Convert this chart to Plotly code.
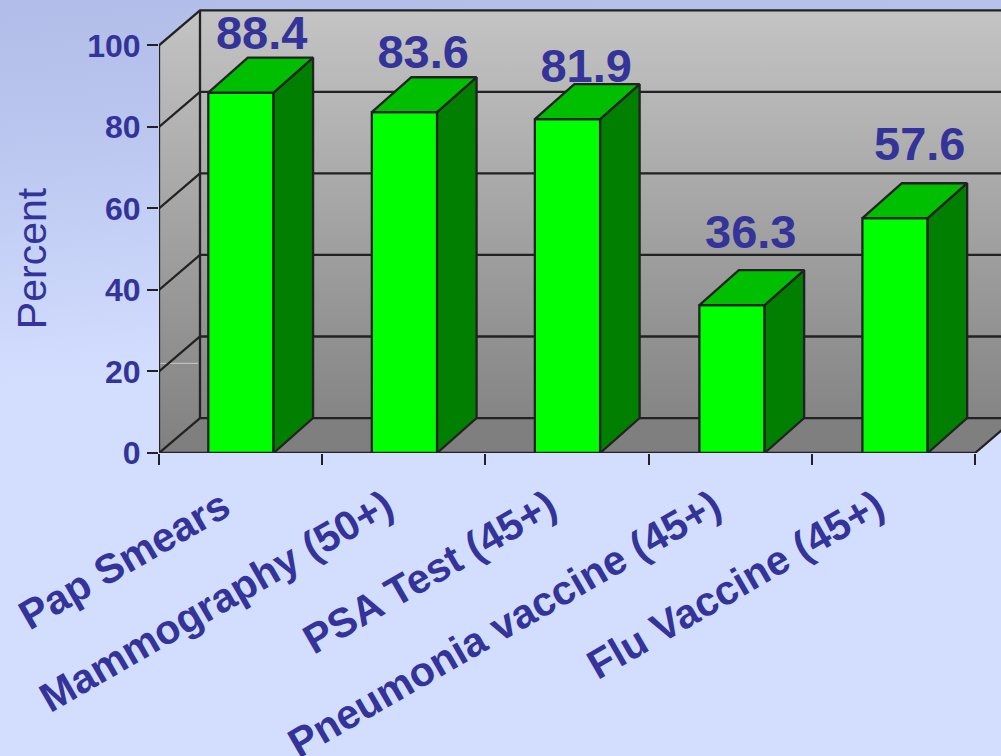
import base64
import plotly.graph_objects as go

categories = ["Pap Smears", "Mammography (50+)", "PSA Test (45+)", "Pneumonia vaccine (45+)", "Flu Vaccine (45+)"]
values = [88.4, 83.6, 81.9, 36.3, 57.6]
y_ticks = [0, 20, 40, 60, 80, 100]
y_title = "Percent"

# layout and styling constants
W, H = 1001, 756
L, B, T = 159, 302.6, 0
PX_X = 163.2
PX_Y = 4.08
x_max = (W - L) / PX_X
y_max = (H - B - T) / PX_Y
n = len(categories)
wall_dx = 41 / PX_X
wall_dy = 35 / PX_Y
bar_dx = 39.5 / PX_X
bar_dy = 35 / PX_Y
bar_w = 0.40
centers = [0.502, 1.504, 2.503, 3.511, 4.510]
label_pos = [c - 0.112 for c in centers]
# hand placement of the value labels, in pixels (right, down)
label_nudge = [(1, 3), (-1, 3), (-1, 10), (-1, -10), (5, -11)]
INK = "#222222"
BLUE = "#333399"
FONT = "Liberation Sans, Arial, sans-serif"
LW = 2.3

bg = ('<svg xmlns="http://www.w3.org/2000/svg" width="1001" height="756" preserveAspectRatio="none">'
      '<defs><linearGradient id="g" x1="0" y1="0" x2="0.06" y2="0.6">'
      '<stop offset="0" stop-color="#b1bce8"/><stop offset="0.35" stop-color="#bcc8f0"/>'
      '<stop offset="0.85" stop-color="#d3deff"/><stop offset="1" stop-color="#d3deff"/>'
      '</linearGradient></defs>'
      '<rect width="1001" height="756" fill="url(#g)"/></svg>')
bg_uri = "data:image/svg+xml;base64," + base64.b64encode(bg.encode()).decode()

fig = go.Figure()

# walls and floor, on the base axes so they sit under the bars
fig.add_trace(go.Scatter(
    x=[wall_dx, n + wall_dx, n + wall_dx, wall_dx, wall_dx],
    y=[wall_dy, wall_dy, 100 + wall_dy, 100 + wall_dy, wall_dy],
    mode="lines", fill="toself", line=dict(width=0),
    fillgradient=dict(type="vertical", colorscale=[[0, "#858585"], [1, "#c4c4c4"]]),
    hoverinfo="skip", cliponaxis=False))
fig.add_trace(go.Scatter(
    x=[0, wall_dx, wall_dx, 0, 0],
    y=[0, wall_dy, 100 + wall_dy, 100, 0],
    mode="lines", fill="toself", line=dict(width=0),
    fillgradient=dict(type="vertical", colorscale=[[0, "#808080"], [1, "#c4c4c4"]]),
    hoverinfo="skip", cliponaxis=False))
fig.add_trace(go.Scatter(
    x=[0, n, n + wall_dx, wall_dx, 0],
    y=[0, 0, wall_dy, wall_dy, 0],
    mode="lines", fill="toself", line=dict(width=0), fillcolor="#7f7f7f",
    hoverinfo="skip", cliponaxis=False))
# faint light streak on the left wall
fig.add_trace(go.Scatter(x=[0.006, 0.24], y=[22, 22], mode="lines", line=dict(color="#c8c8c8", width=1),
                         hoverinfo="skip", cliponaxis=False))

gx, gy = [], []
for v in y_ticks:
    gx += [0, wall_dx, n + wall_dx, None]
    gy += [v, v + wall_dy, v + wall_dy, None]
gx += [wall_dx, wall_dx, None, 0, 0, None, 0, n, n + wall_dx]
gy += [wall_dy, 100 + wall_dy, None, 0, 100, None, 0, 0, wall_dy]
fig.add_trace(go.Scatter(x=gx, y=gy, mode="lines", line=dict(color=INK, width=LW),
                         hoverinfo="skip", cliponaxis=False))

# bars on an overlaid pair of axes
fig.add_trace(go.Bar(x=centers, y=values, width=bar_w, marker=dict(color="#00ff00", line=dict(color=INK, width=LW)),
                     xaxis="x2", yaxis="y2", cliponaxis=False, hoverinfo="skip"))
for c, v in zip(centers, values):
    r = c + bar_w / 2
    l = c - bar_w / 2
    fig.add_trace(go.Scatter(x=[r, r + bar_dx, r + bar_dx, r, r], y=[0, bar_dy, v + bar_dy, v, 0],
                             mode="lines", fill="toself", fillcolor="#007f00", line=dict(color=INK, width=LW),
                             xaxis="x2", yaxis="y2", cliponaxis=False, hoverinfo="skip"))
    fig.add_trace(go.Scatter(x=[l, r, r + bar_dx, l + bar_dx, l], y=[v, v, v + bar_dy, v + bar_dy, v],
                             mode="lines", fill="toself", fillcolor="#00bf00", line=dict(color=INK, width=LW),
                             xaxis="x2", yaxis="y2", cliponaxis=False, hoverinfo="skip"))

fig.add_trace(go.Scatter(
    x=[c + bar_dx / 2 + nx / PX_X for c, (nx, ny) in zip(centers, label_nudge)],
    y=[v + bar_dy - ny / PX_Y for v, (nx, ny) in zip(values, label_nudge)],
    text=[f"{v:.1f}" for v in values], mode="text", textposition="top center",
    textfont=dict(family=FONT, size=47, color=BLUE, weight="bold"),
    xaxis="x2", yaxis="y2", cliponaxis=False, hoverinfo="skip"))

fig.update_layout(
    width=W, height=H, autosize=False, showlegend=False,
    margin=dict(l=L, r=0, t=T, b=B, pad=0, autoexpand=False),
    paper_bgcolor="#d3deff", plot_bgcolor="rgba(0,0,0,0)",
    images=[dict(source=bg_uri, xref="paper", yref="paper", x=-L / (W - L), y=1,
                 sizex=W / (W - L), sizey=H / (H - B - T), sizing="stretch",
                 xanchor="left", yanchor="top", layer="below")],
    xaxis=dict(range=[0, x_max], showgrid=False, zeroline=False, showline=False, automargin=False,
               tickmode="array", tickvals=label_pos, ticktext=categories, tickangle=-30,
               ticks="", ticklabelstandoff=21,
               tickfont=dict(family=FONT, size=41, color=BLUE, weight="bold"),
               minor=dict(tickmode="array", tickvals=list(range(n + 1)), ticks="outside", ticklen=11,
                          tickwidth=2, tickcolor=INK, showgrid=False)),
    yaxis=dict(range=[0, y_max], showgrid=False, zeroline=False, showline=False, automargin=False,
               tickmode="array", tickvals=y_ticks, ticks="outside", ticklen=11, tickwidth=2, tickcolor=INK,
               tickfont=dict(family=FONT, size=32, color=BLUE, weight="bold")),
    xaxis2=dict(range=[0, x_max], overlaying="x", anchor="y2", visible=False),
    yaxis2=dict(range=[0, y_max], overlaying="y", anchor="x2", visible=False),
    annotations=[dict(text=y_title, xref="paper", yref="y", x=0, y=47.8, xshift=-152, textangle=-90,
                      showarrow=False, font=dict(family=FONT, size=41, color=BLUE))],
)

fig.write_html("out.html", config=dict(displayModeBar=False),
               post_script="document.body.style.margin='0';document.documentElement.style.overflow='hidden';")
